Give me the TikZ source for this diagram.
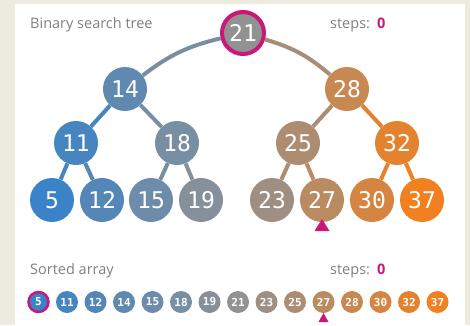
\documentclass[tikz,border=0pt]{standalone}
\usepackage{fontspec}
\setmainfont{Open Sans}
\newfontfamily\digitfont{DejaVu Sans Mono}
\definecolor{bg}{HTML}{EDEAE0}
\definecolor{cblue}{HTML}{3A83C8}
\definecolor{cgray}{HTML}{929292}
\definecolor{corange}{HTML}{F08020}
\definecolor{pinkc}{HTML}{C8197A}
\definecolor{labelc}{HTML}{808080}
\colorlet{c5}{cblue}
\colorlet{c11}{cblue!86!cgray}
\colorlet{c12}{cblue!71!cgray}
\colorlet{c14}{cblue!57!cgray}
\colorlet{c15}{cblue!43!cgray}
\colorlet{c18}{cblue!29!cgray}
\colorlet{c19}{cblue!14!cgray}
\colorlet{c21}{cgray}
\colorlet{c23}{corange!14!cgray}
\colorlet{c25}{corange!29!cgray}
\colorlet{c27}{corange!43!cgray}
\colorlet{c28}{corange!57!cgray}
\colorlet{c30}{corange!71!cgray}
\colorlet{c32}{corange!86!cgray}
\colorlet{c37}{corange}
\tikzset{
  tnode/.style={circle, minimum size=44pt, inner sep=0pt, text=white, font=\digitfont\fontsize{23}{23}\selectfont},
  anode/.style={circle, minimum size=22pt, inner sep=0pt, text=white, font=\digitfont\bfseries\fontsize{11}{11}\selectfont},
  edge/.style={line width=4pt},
  title/.style={anchor=west, text=labelc, font=\fontsize{14.5}{15}\selectfont, inner sep=0pt},
}
\begin{document}
\begin{tikzpicture}[x=1pt,y=-1pt]
\useasboundingbox (0,0) rectangle (470,325);
\fill[bg] (0,0) rectangle (470,325);
\fill[white] (15,4) rectangle (465,325);
% titles
\node[title] (t1) at (30,25) {Binary search tree};
\node[title] (s1) at (330,25) {steps:\hspace{7pt}\textcolor{pinkc}{\bfseries 0}};
\node[title] (t2) at (30,271) {Sorted array};
\node[title] (s2) at (330,271) {steps:\hspace{7pt}\textcolor{pinkc}{\bfseries 0}};
% tree nodes
\node[tnode, fill=c21, draw=pinkc, line width=4pt, minimum size=42pt] (n21) at (243,33) {21};
\node[tnode, fill=c14] (n14) at (125,89) {14};
\node[tnode, fill=c28] (n28) at (347,89) {28};
\node[tnode, fill=c11] (n11) at (76,143) {11};
\node[tnode, fill=c18] (n18) at (177,143) {18};
\node[tnode, fill=c25] (n25) at (298,143) {25};
\node[tnode, fill=c32] (n32) at (397,143) {32};
\node[tnode, fill=c5] (n5) at (52,200) {5};
\node[tnode, fill=c12] (n12) at (102,200) {12};
\node[tnode, fill=c15] (n15) at (151,200) {15};
\node[tnode, fill=c19] (n19) at (201,200) {19};
\node[tnode, fill=c23] (n23) at (272,200) {23};
\node[tnode, fill=c27] (n27) at (322,200) {27};
\node[tnode, fill=c30] (n30) at (372,200) {30};
\node[tnode, fill=c37] (n37) at (422,200) {37};
% edges
\draw[edge, draw=c21!50!c14] (n21) to[bend right=12] (n14);
\draw[edge, draw=c21!60!c28] (n21) to[bend left=12] (n28);
\draw[edge, draw=c11] (n14) -- (n11);
\draw[edge, draw=c18] (n14) -- (n18);
\draw[edge, draw=c25] (n28) -- (n25);
\draw[edge, draw=c32] (n28) -- (n32);
\draw[edge, draw=c11] (n11) -- (n5);
\draw[edge, draw=c12] (n11) -- (n12);
\draw[edge, draw=c18] (n18) -- (n15);
\draw[edge, draw=c19] (n18) -- (n19);
\draw[edge, draw=c25] (n25) -- (n23);
\draw[edge, draw=c27] (n25) -- (n27);
\draw[edge, draw=c32] (n32) -- (n30);
\draw[edge, draw=c37] (n32) -- (n37);
% tree pointer
\fill[pinkc] (314.5,231) -- (322,219) -- (329.5,231) -- cycle;
% sorted array
\node[anode, fill=c5, draw=pinkc, line width=2.5pt, minimum size=20pt] (a5) at (38.5,302) {5};
\node[anode, fill=c11] (a11) at (67,302) {11};
\node[anode, fill=c12] (a12) at (95.5,302) {12};
\node[anode, fill=c14] (a14) at (124,302) {14};
\node[anode, fill=c15] (a15) at (152.5,302) {15};
\node[anode, fill=c18] (a18) at (181,302) {18};
\node[anode, fill=c19] (a19) at (209.5,302) {19};
\node[anode, fill=c21] (a21) at (238,302) {21};
\node[anode, fill=c23] (a23) at (266.5,302) {23};
\node[anode, fill=c25] (a25) at (295,302) {25};
\node[anode, fill=c27] (a27) at (323.5,302) {27};
\node[anode, fill=c28] (a28) at (352,302) {28};
\node[anode, fill=c30] (a30) at (380.5,302) {30};
\node[anode, fill=c32] (a32) at (409,302) {32};
\node[anode, fill=c37] (a37) at (437.5,302) {37};
\fill[pinkc] (318.5,322) -- (323.5,313) -- (328.5,322) -- cycle;
\end{tikzpicture}
\end{document}
